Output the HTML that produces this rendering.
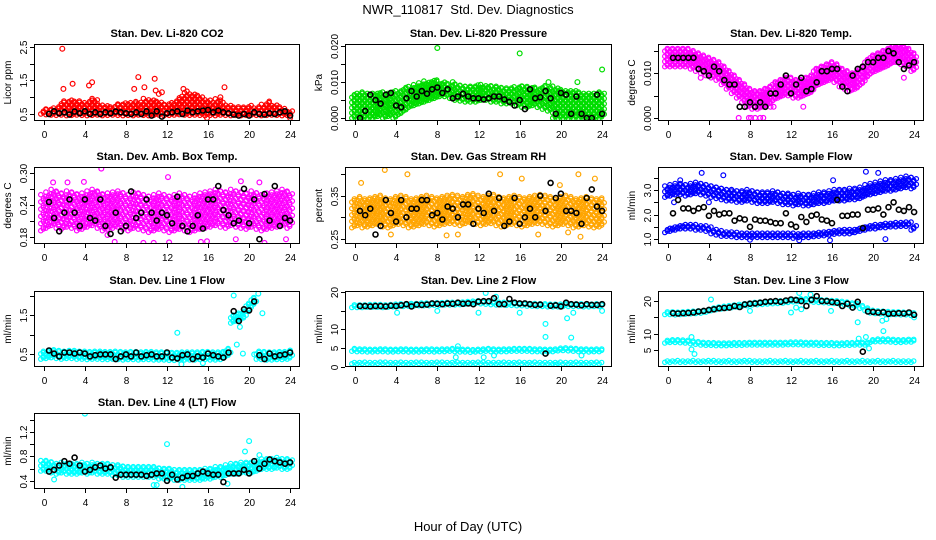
<!DOCTYPE html>
<html><head><meta charset="utf-8"><style>
html,body{margin:0;padding:0;background:#fff;}
svg{display:block;font-family:"Liberation Sans",sans-serif;}
</style></head><body>
<svg id="chart" width="936" height="540" viewBox="0 0 936 540">
<text x="468" y="14" font-size="13" text-anchor="middle">NWR_110817&#160;&#160;Std. Dev. Diagnostics</text>
<text x="468" y="531" font-size="13" text-anchor="middle">Hour of Day (UTC)</text>
</svg>
<script>
// ---------- shared categories ----------
const xTicks = [0,4,8,12,16,20,24];
const xTickLabels = ["0","4","8","12","16","20","24"];
// ---------- CO2 ----------
const co2Hi = [0.65,0.65,0.7,0.75,0.9,0.92,0.9,0.88,0.85,0.9,0.95,0.8,0.75,0.72,0.78,0.8,0.82,0.85,0.88,0.85,0.95,0.9,0.88,0.85,0.8,0.85,0.95,1.05,1.2,1.1,1.05,1.0,0.9,0.85,0.95,0.85,0.75,0.72,0.7,0.72,0.75,0.7,0.72,0.8,0.88,0.78,0.7,0.65,0.6];
const co2Lo = [0.5,0.48,0.47,0.46,0.47,0.45,0.46,0.47,0.46,0.45,0.46,0.47,0.45,0.46,0.47,0.46,0.45,0.46,0.45,0.47,0.46,0.45,0.46,0.47,0.45,0.46,0.47,0.48,0.47,0.46,0.47,0.46,0.45,0.46,0.45,0.47,0.46,0.45,0.46,0.45,0.46,0.47,0.46,0.45,0.46,0.47,0.46,0.45,0.46];
const co2OutX = [1.8,1.9,2.8,4.4,4.7,8.8,9.2,9.8,10.8,10.9,11.2,11.5,13.6,17.6,17.2,24,15.9];
const co2OutY = [2.45,1.25,1.4,1.35,1.45,1.25,1.6,1.3,1.55,1.2,1.1,1.15,1.25,1.3,1.0,0.38,0.38];
const co2Black = [0.5,0.58,0.52,0.55,0.48,0.57,0.52,0.58,0.5,0.55,0.5,0.55,0.52,0.57,0.55,0.52,0.5,0.55,0.5,0.58,0.45,0.58,0.42,0.52,0.55,0.58,0.5,0.6,0.55,0.58,0.6,0.62,0.55,0.6,0.55,0.52,0.48,0.45,0.5,0.45,0.55,0.5,0.48,0.52,0.5,0.55,0.58,0.45];
const co2TickVals = [0.5,1,1.5,2,2.5];
const co2TickLabels = ["0.5","","1.5","","2.5"];
// ---------- Pressure ----------
const presHi = [0.007,0.007,0.0072,0.007,0.0068,0.007,0.0072,0.007,0.0075,0.008,0.0085,0.009,0.0095,0.01,0.0102,0.0105,0.0105,0.01,0.0098,0.0095,0.0095,0.0092,0.009,0.009,0.0092,0.0095,0.009,0.0088,0.0088,0.0085,0.0085,0.0088,0.0088,0.009,0.0088,0.0085,0.0085,0.009,0.0088,0.0085,0.008,0.0078,0.0075,0.0075,0.0072,0.007,0.007,0.007,0.0072];
const presLo = [0,0,0,0,0,0.0005,0,0.0005,0,0.001,0.002,0.003,0.0035,0.004,0.0045,0.005,0.0055,0.006,0.006,0.0055,0.005,0.0048,0.0045,0.0045,0.0045,0.005,0.005,0.0045,0.0045,0.004,0.004,0.004,0.0035,0.003,0.003,0.0035,0.003,0.0025,0.002,0,0,0,0,0,0,0,0,0,0];
const presOutX = [8,16,24,9.5,18.8,21.6];
const presOutY = [0.0195,0.018,0.0135,0.010,0.010,0.010];
const presBlack = [0,0.002,0.0065,0.005,0.004,0.0065,0.007,0.0035,0.003,0.0055,0.0075,0.006,0.0075,0.0068,0.008,0.0085,0.007,0.008,0.0055,0.006,0.0068,0.006,0.0055,0.0055,0.0052,0.0055,0.006,0.006,0.0052,0.0045,0.0035,0.005,0.0025,0.008,0.0055,0.0058,0.0075,0.0055,0.0012,0.007,0.0065,0.0012,0.006,0.0012,0,0,0.0065,0.0012];
const presTickVals = [0,0.005,0.01,0.015,0.02];
const presTickLabels = ["0.000","","0.010","","0.020"];
// ---------- Li-820 Temp ----------
const tempMid = [0.0135,0.0135,0.0135,0.0135,0.0135,0.013,0.0125,0.012,0.0115,0.011,0.0105,0.0095,0.0085,0.0075,0.0065,0.0055,0.0045,0.004,0.004,0.0045,0.005,0.006,0.0065,0.007,0.007,0.0065,0.0065,0.007,0.0075,0.009,0.0095,0.01,0.0105,0.01,0.009,0.0085,0.008,0.0085,0.0095,0.011,0.012,0.0125,0.013,0.0135,0.0142,0.0145,0.014,0.0135,0.0125];
const tempOutX = [6.9,7.9,8.1,8.5,9.0,9.3,10.0,10.3,13.2,3.2,23.0,22.2,21.9,23.2];
const tempOutY = [0,0,0,0,0,0,0.0025,0.0025,0.0025,0.009,0.009,0.0155,0.016,0.0155];
const tempBlack = [0.0135,0.0135,0.0135,0.0135,0.0135,0.011,0.0105,0.0095,0.0115,0.0105,0.0085,0.0075,0.0075,0.0025,0.0025,0.0035,0.0025,0.0035,0.0025,0.0055,0.0055,0.0075,0.0095,0.0055,0.0075,0.009,0.006,0.0065,0.008,0.0105,0.0105,0.011,0.011,0.007,0.006,0.0095,0.011,0.0115,0.0125,0.0125,0.0135,0.0135,0.015,0.0145,0.0125,0.011,0.0118,0.0125];
const tempTickVals = [0,0.005,0.01,0.015];
const tempTickLabels = ["0.000","","0.010",""];
// ---------- Amb Box Temp ----------
const ambMid = [0.225,0.23,0.235,0.23,0.228,0.232,0.23,0.225,0.228,0.232,0.235,0.23,0.225,0.228,0.23,0.232,0.228,0.225,0.23,0.228,0.225,0.222,0.225,0.228,0.225,0.222,0.225,0.228,0.225,0.222,0.225,0.228,0.23,0.232,0.235,0.232,0.23,0.235,0.232,0.23,0.228,0.232,0.228,0.225,0.228,0.23,0.232,0.235,0.23];
const ambOutX = [5.6,0.9,2.3,3.9,12.1,19.2,21.0,6.9,9.7,10.7,12.2,15.3,15.9,21.5,23.6,18.7,6.2];
const ambOutY = [0.308,0.282,0.282,0.283,0.292,0.284,0.282,0.17,0.168,0.168,0.169,0.17,0.171,0.168,0.175,0.175,0.183];
const ambBlack = [0.245,0.215,0.19,0.225,0.25,0.225,0.2,0.25,0.215,0.21,0.25,0.2,0.185,0.225,0.19,0.2,0.265,0.215,0.225,0.25,0.225,0.21,0.225,0.22,0.205,0.255,0.2,0.19,0.2,0.22,0.195,0.25,0.25,0.275,0.23,0.22,0.205,0.21,0.27,0.205,0.25,0.175,0.26,0.21,0.275,0.2,0.215,0.21];
const ambTickVals = [0.18,0.21,0.24,0.27,0.30];
const ambTickLabels = ["0.18","","0.24","","0.30"];
// ---------- Gas Stream RH ----------
const rhMid = [0.31,0.315,0.31,0.312,0.315,0.318,0.312,0.31,0.315,0.318,0.315,0.31,0.312,0.315,0.318,0.315,0.312,0.315,0.318,0.32,0.318,0.315,0.32,0.322,0.318,0.315,0.318,0.32,0.315,0.312,0.315,0.318,0.315,0.312,0.315,0.318,0.32,0.318,0.315,0.312,0.315,0.318,0.315,0.31,0.312,0.315,0.312,0.31,0.312];
const rhOutX = [2.9,5.1,14.1,0.6,16.2,19.9,21.7,23.3,8.9,10,17.8,21.9,20.7,3.5];
const rhOutY = [0.41,0.40,0.40,0.38,0.39,0.375,0.40,0.39,0.258,0.26,0.26,0.255,0.265,0.26];
const rhBlack = [0.315,0.305,0.32,0.26,0.28,0.34,0.31,0.29,0.34,0.3,0.32,0.32,0.34,0.34,0.305,0.31,0.295,0.325,0.32,0.3,0.33,0.33,0.285,0.32,0.31,0.355,0.315,0.345,0.28,0.29,0.345,0.285,0.3,0.32,0.3,0.35,0.315,0.38,0.345,0.355,0.315,0.315,0.31,0.285,0.345,0.365,0.325,0.315];
const rhTickVals = [0.25,0.30,0.35,0.40];
const rhTickLabels = ["0.25","","0.35",""];
// ---------- Sample Flow ----------
const sfUpper = [2.95,3.0,3.05,3.05,3.0,3.05,3.1,3.05,3.0,2.95,2.9,2.85,2.8,2.8,2.75,2.75,2.8,2.75,2.7,2.7,2.7,2.75,2.7,2.65,2.65,2.6,2.65,2.6,2.6,2.65,2.7,2.7,2.75,2.8,2.8,2.8,2.85,2.85,2.9,3.0,3.05,3.1,3.15,3.2,3.2,3.25,3.3,3.35,3.3];
const sfLower = [1.35,1.4,1.45,1.5,1.5,1.5,1.45,1.45,1.4,1.3,1.25,1.2,1.2,1.18,1.15,1.15,1.15,1.15,1.15,1.15,1.15,1.15,1.15,1.15,1.15,1.12,1.15,1.15,1.15,1.18,1.2,1.22,1.25,1.28,1.3,1.3,1.3,1.35,1.4,1.45,1.5,1.5,1.55,1.55,1.58,1.58,1.6,1.6,1.45];
const sfOutX = [3.3,5.4,1.2,19.3,20.5,12.8,15.8,21.2,8.0,0.6,4.0,16.1];
const sfOutY = [3.7,3.6,3.4,3.75,3.7,0.95,0.95,1.0,0.97,2.5,2.5,3.4];
const sfBlack = [2.05,2.6,2.25,2.25,2.15,2.25,2.3,1.95,2.15,2.0,2.05,2.05,1.75,1.85,1.8,1.5,1.8,1.75,1.75,1.7,1.65,1.65,2.05,1.6,1.5,1.9,1.7,1.95,2.0,1.8,1.75,1.65,2.6,1.95,1.95,2.0,2.0,1.45,2.2,2.2,2.25,2.0,2.3,2.5,2.2,2.15,2.3,2.1];
const sfTickVals = [1.0,1.5,2.0,2.5,3.0,3.5];
const sfTickLabels = ["1.0","","2.0","","3.0",""];
// ---------- Line 1 Flow ----------
const l1Mid = [0.48,0.5,0.52,0.5,0.48,0.5,0.5,0.48,0.48,0.47,0.48,0.48,0.47,0.47,0.48,0.47,0.46,0.47,0.47,0.46,0.47,0.47,0.46,0.46,0.46,0.45,0.45,0.46,0.46,0.46,0.46,0.47,0.47,0.46,0.46,0.47,0.55,1.4,1.45,1.5,1.7,1.85,0.48,0.47,0.46,0.46,0.47,0.47,0.48];
const l1OutX = [13,13.4,15.5,18.8,19.4,18.5,20.9,21.3,20.5,24,19.1];
const l1OutY = [1.05,0.25,0.28,0.75,0.52,2.0,2.05,1.55,0.5,0.6,1.2];
const l1Black = [0.6,0.52,0.45,0.55,0.55,0.52,0.55,0.52,0.45,0.48,0.5,0.5,0.5,0.38,0.45,0.5,0.45,0.55,0.45,0.48,0.5,0.45,0.45,0.55,0.42,0.4,0.48,0.5,0.38,0.45,0.42,0.52,0.48,0.45,0.42,0.55,1.6,1.35,1.65,1.62,1.85,0.48,0.38,0.52,0.45,0.48,0.5,0.55];
const l1TickVals = [0.5,1.0,1.5,2.0];
const l1TickLabels = ["0.5","","1.5",""];
// ---------- Line 2 Flow ----------
const l2Top = [16.3,16.3,16.3,16.4,16.4,16.4,16.3,16.4,16.5,16.6,16.6,16.7,16.7,16.8,16.8,16.8,16.9,16.9,17.0,17.0,17.0,17.1,17.2,17.3,17.4,17.3,17.2,17.1,17.0,17.0,16.9,16.9,16.8,16.8,16.7,16.7,16.6,16.6,16.5,16.5,16.5,16.6,16.6,16.6,16.6,16.5,16.5,16.6,16.6];
const l2Mid = [4.5,4.4,4.4,4.3,4.3,4.4,4.4,4.3,4.3,4.4,4.4,4.3,4.3,4.3,4.4,4.4,4.3,4.4,4.4,4.5,4.4,4.3,4.3,4.2,4.3,4.4,4.5,4.4,4.3,4.4,4.4,4.5,4.5,4.5,4.5,4.4,4.4,4.3,4.3,4.4,4.6,4.7,4.6,4.5,4.4,4.4,4.3,4.4,4.4];
const l2Low = [1.0,1.0,1.1,1.0,1.0,1.1,1.1,1.0,1.0,1.1,1.0,1.0,1.1,1.1,1.0,1.0,1.1,1.1,1.0,1.0,1.1,1.0,1.0,1.0,1.1,1.1,1.0,1.0,1.0,1.1,1.0,1.0,1.1,1.0,1.0,1.1,1.0,1.0,1.0,1.0,1.1,1.0,1.0,1.1,1.0,1.0,1.0,1.1,1.0];
const l2OutX = [12.7,13.7,4.1,8,12,16,18.5,18.5,20.6,21,21.2,24,9.8,10,12.5,13.5,22,19.5];
const l2OutY = [19.8,18.8,14.5,15,14.5,14.5,11.5,8,13,7.8,14.5,15,2.5,5.5,2.5,3,3,0.5];
const l2Black = [16.3,16.3,16.2,16.3,16.3,16.2,16.4,16.3,16.5,16.8,16.2,16.7,16.6,16.7,17.0,16.9,16.8,17.0,16.9,17.2,16.9,17.0,16.8,17.5,17.6,17.6,18.4,16.8,16.8,18.2,17.2,17.0,17.0,16.8,16.6,16.7,3.5,16.4,16.5,16.2,17.2,16.8,16.7,16.5,16.8,16.6,16.6,16.8];
const l2TickVals = [0,5,10,15,20];
const l2TickLabels = ["0","5","10","","20"];
// ---------- Line 3 Flow ----------
const l3Top = [16.3,16.3,16.2,16.3,16.4,16.5,16.6,16.7,17.0,17.5,17.8,18.0,18.2,18.4,18.6,18.8,19.0,19.2,19.3,19.4,19.5,19.6,19.7,19.8,20.0,20.2,20.3,20.3,20.2,20.1,20.0,19.9,19.8,19.7,19.5,19.3,19.0,18.8,18.2,17.5,16.8,16.6,16.5,16.4,16.3,16.3,16.2,16.2,16.0];
const l3Mid = [7.6,7.8,7.8,7.7,7.6,7.4,7.2,7.0,6.9,6.9,6.8,6.8,6.8,6.9,6.9,6.9,7.0,7.0,7.0,7.0,7.0,7.0,7.0,7.0,7.1,7.1,7.1,7.0,7.0,7.0,6.9,6.9,6.9,6.8,6.8,6.9,6.9,7.0,7.0,7.0,7.8,8.0,8.0,8.0,7.9,7.8,7.8,7.9,7.9];
const l3Low = [1.5,1.5,1.6,1.5,1.5,1.6,1.5,1.5,1.6,1.6,1.5,1.5,1.6,1.5,1.5,1.6,1.6,1.5,1.5,1.5,1.6,1.5,1.5,1.6,1.5,1.5,1.6,1.5,1.5,1.6,1.5,1.5,1.6,1.5,1.5,1.6,1.5,1.5,1.6,1.5,1.5,1.6,1.5,1.5,1.6,1.5,1.5,1.5,1.5];
const l3OutX = [2.3,2.3,2.6,4.2,8,12,12.5,12.8,13,13.9,15.9,18.5,19.3,19.6,21,20.9,21.3,24,18.6];
const l3OutY = [9,5.2,3.8,20.5,17,16.5,18,22.5,17.5,22,17,13.5,9,5.5,10.8,14,14.5,15,8.5];
const l3Black = [16.3,16.2,16.3,16.4,16.5,16.8,17.0,17.3,17.5,17.8,17.9,18.0,18.5,18.2,19.0,19.2,19.3,19.5,19.8,19.9,20.0,19.8,20.2,20.5,20.3,20.0,18.5,20.4,21.5,20.0,20.0,19.7,19.5,18.5,19.2,18.0,19.8,4.5,16.8,16.7,16.5,16.6,16.1,16.2,16.3,16.2,16.5,15.8];
const l3TickVals = [5,10,15,20];
const l3TickLabels = ["5","10","","20"];
// ---------- Line 4 Flow ----------
const l4Mid = [0.65,0.65,0.62,0.6,0.62,0.6,0.6,0.6,0.62,0.6,0.62,0.6,0.6,0.6,0.58,0.58,0.55,0.55,0.55,0.55,0.55,0.55,0.55,0.52,0.52,0.52,0.5,0.5,0.5,0.5,0.5,0.5,0.52,0.52,0.55,0.55,0.58,0.6,0.6,0.62,0.62,0.62,0.65,0.68,0.68,0.68,0.7,0.68,0.68];
const l4OutX = [4,12,20,19.6,1,13.5,10.7,11,17.9,21];
const l4OutY = [1.5,1.0,1.05,0.88,0.42,0.3,0.33,0.33,0.35,0.82];
const l4Black = [0.55,0.58,0.65,0.72,0.68,0.78,0.65,0.55,0.58,0.62,0.65,0.6,0.62,0.45,0.5,0.5,0.5,0.5,0.5,0.48,0.5,0.52,0.52,0.4,0.5,0.42,0.45,0.48,0.48,0.52,0.55,0.52,0.5,0.5,0.38,0.52,0.52,0.52,0.58,0.52,0.72,0.6,0.68,0.75,0.72,0.7,0.68,0.7];
const l4TickVals = [0.4,0.6,0.8,1.0,1.2,1.4];
const l4TickLabels = ["0.4","","0.8","","1.2",""];

// ---------- layout ----------
const COLS = [[34,300],[345,612],[658,924]];
const ROWS = [[44,121],[167,244],[291,367],[413,489]];
const XMIN = -0.96, XMAX = 24.96;
const NS = "http://www.w3.org/2000/svg";
const svg = document.getElementById('chart');

function band(mid, hw){ return [mid.map(v=>v-hw), mid.map(v=>v+hw)]; }

const panels = [
 {key:'co2',c:0,r:0,dom:[0.29,2.59],step:2.8,title:'Stan. Dev. Li-820 CO2',ylab:'Licor ppm',color:'#ff0000',clouds:[[co2Lo,co2Hi]],ox:co2OutX,oy:co2OutY,black:co2Black,tv:co2TickVals,tl:co2TickLabels},
 {key:'pressure',c:1,r:0,dom:[-0.0008,0.0206],step:2.6,title:'Stan. Dev. Li-820 Pressure',ylab:'kPa',color:'#00dd00',clouds:[[presLo,presHi]],ox:presOutX,oy:presOutY,black:presBlack,tv:presTickVals,tl:presTickLabels},
 {key:'temp',c:2,r:0,dom:[-0.0007,0.0166],step:2.6,title:'Stan. Dev. Li-820 Temp.',ylab:'degrees C',color:'#ff00ff',clouds:[band(tempMid,0.002)],ox:tempOutX,oy:tempOutY,black:tempBlack,tv:tempTickVals,tl:tempTickLabels},
 {key:'amb',c:0,r:1,dom:[0.166,0.311],step:3.6,title:'Stan. Dev. Amb. Box Temp.',ylab:'degrees C',color:'#ff00ff',clouds:[band(ambMid,0.034)],ox:ambOutX,oy:ambOutY,black:ambBlack,tv:ambTickVals,tl:ambTickLabels},
 {key:'rh',c:1,r:1,dom:[0.238,0.417],step:3.2,title:'Stan. Dev. Gas Stream RH',ylab:'percent',color:'#ffa500',clouds:[band(rhMid,0.034)],ox:rhOutX,oy:rhOutY,black:rhBlack,tv:rhTickVals,tl:rhTickLabels},
 {key:'sample',c:2,r:1,dom:[0.8,3.94],step:2.8,title:'Stan. Dev. Sample Flow',ylab:'ml/min',color:'#0000ff',clouds:[band(sfUpper,0.24),band(sfLower,0.08)],ox:sfOutX,oy:sfOutY,black:sfBlack,tv:sfTickVals,tl:sfTickLabels},
 {key:'line1',c:0,r:2,dom:[0.18,2.115],step:2.6,title:'Stan. Dev. Line 1 Flow',ylab:'ml/min',color:'#00ffff',clouds:[band(l1Mid,0.1)],ox:l1OutX,oy:l1OutY,black:l1Black,tv:l1TickVals,tl:l1TickLabels},
 {key:'line2',c:1,r:2,dom:[-0.1,20.35],step:2.6,title:'Stan. Dev. Line 2 Flow',ylab:'ml/min',color:'#00ffff',clouds:[band(l2Top,0.4),band(l2Mid,0.35),band(l2Low,0.25)],ox:l2OutX,oy:l2OutY,black:l2Black,tv:l2TickVals,tl:l2TickLabels},
 {key:'line3',c:2,r:2,dom:[-0.2,23.1],step:2.6,title:'Stan. Dev. Line 3 Flow',ylab:'ml/min',color:'#00ffff',clouds:[band(l3Top,0.4),band(l3Mid,0.45),band(l3Low,0.25)],ox:l3OutX,oy:l3OutY,black:l3Black,tv:l3TickVals,tl:l3TickLabels},
 {key:'line4',c:0,r:3,dom:[0.265,1.51],step:2.6,title:'Stan. Dev. Line 4 (LT) Flow',ylab:'ml/min',color:'#00ffff',clouds:[band(l4Mid,0.09)],ox:l4OutX,oy:l4OutY,black:l4Black,tv:l4TickVals,tl:l4TickLabels}
];

function mk(tag, attrs, parent){
  const e = document.createElementNS(NS, tag);
  for (const k in attrs) e.setAttribute(k, attrs[k]);
  parent.appendChild(e);
  return e;
}

panels.forEach(p=>{
  const [L,R] = COLS[p.c], [T,B] = ROWS[p.r];
  const sx = h => L + (h - XMIN) / (XMAX - XMIN) * (R - L);
  const sy = v => B - (v - p.dom[0]) / (p.dom[1] - p.dom[0]) * (B - T);
  const g = mk('g', {}, svg);
  
  
  const clipId = 'clip-' + p.key;
  const cp = mk('clipPath', {id: clipId}, g);
  mk('rect', {x:L, y:T, width:R-L, height:B-T}, cp);

  const t = mk('text', {x:(L+R)/2, y:T-7, 'font-size':11, 'font-weight':'bold', 'text-anchor':'middle'}, g);
  t.textContent = p.title;
  
  

  const yl = mk('text', {x:L-23, y:(T+B)/2, 'font-size':10, 'text-anchor':'middle', transform:`rotate(-90 ${L-23} ${(T+B)/2})`}, g);
  yl.textContent = p.ylab;
  
  

  const pts = mk('g', {'clip-path':`url(#${clipId})`, fill:'none'}, g);
  
  
  const cloud = mk('g', {stroke:p.color, 'stroke-width':1.2}, pts);
  
  
  const offs = [-0.17, 0.08];
  p.clouds.forEach(([lo, hi])=>{
    lo.forEach((lv, i)=>{
      const h = i * 0.5;
      offs.forEach((dx, k)=>{
        const yTop = sy(hi[i]), yBot = sy(lv);
        let n = 0;
        for (let y = yBot - (k ? p.step/2 : 0); y >= yTop - 0.5; y -= p.step){
          mk('circle', {cx:(sx(h+dx) + ((n%2)?1.3:-1.3)).toFixed(1), cy:y.toFixed(1), r:2.2}, cloud);
          n++;
        }
      });
    });
  });
  p.ox.forEach((x, i)=>{
    const c = mk('circle', {cx:sx(x).toFixed(1), cy:sy(p.oy[i]).toFixed(1), r:2.4}, cloud);
    
    
  });
  const blk = mk('g', {stroke:'#000', 'stroke-width':1.6}, pts);
  
  
  p.black.forEach((v, i)=>{
    const h = 0.5 + i * 0.5;
    const c = mk('circle', {cx:sx(h).toFixed(1), cy:sy(v).toFixed(1), r:2.5}, blk);
    
    
  });

  const box = mk('rect', {x:L+0.5, y:T+0.5, width:R-L-1, height:B-T-1, fill:'none', stroke:'#000', 'stroke-width':1}, g);
  
  

  const xa = mk('g', {}, g);
  
  
  xTicks.forEach((v, i)=>{
    const x = Math.round(sx(v)) + 0.5;
    mk('line', {x1:x, x2:x, y1:B, y2:B+4, stroke:'#000'}, xa);
    const tx = mk('text', {x:x, y:B+17, 'font-size':10, 'text-anchor':'middle'}, xa);
    tx.textContent = xTickLabels[i];
  });
  const ya = mk('g', {}, g);
  
  
  p.tv.forEach((v, i)=>{
    const y = Math.round(sy(v)) + 0.5;
    mk('line', {x1:L-4, x2:L, y1:y, y2:y, stroke:'#000'}, ya);
    if (p.tl[i]){
      const tx = mk('text', {x:L-7, y:y, 'font-size':10, 'text-anchor':'middle', transform:`rotate(-90 ${L-7} ${y})`}, ya);
      tx.textContent = p.tl[i];
    }
  });
});
</script>
</body></html>
